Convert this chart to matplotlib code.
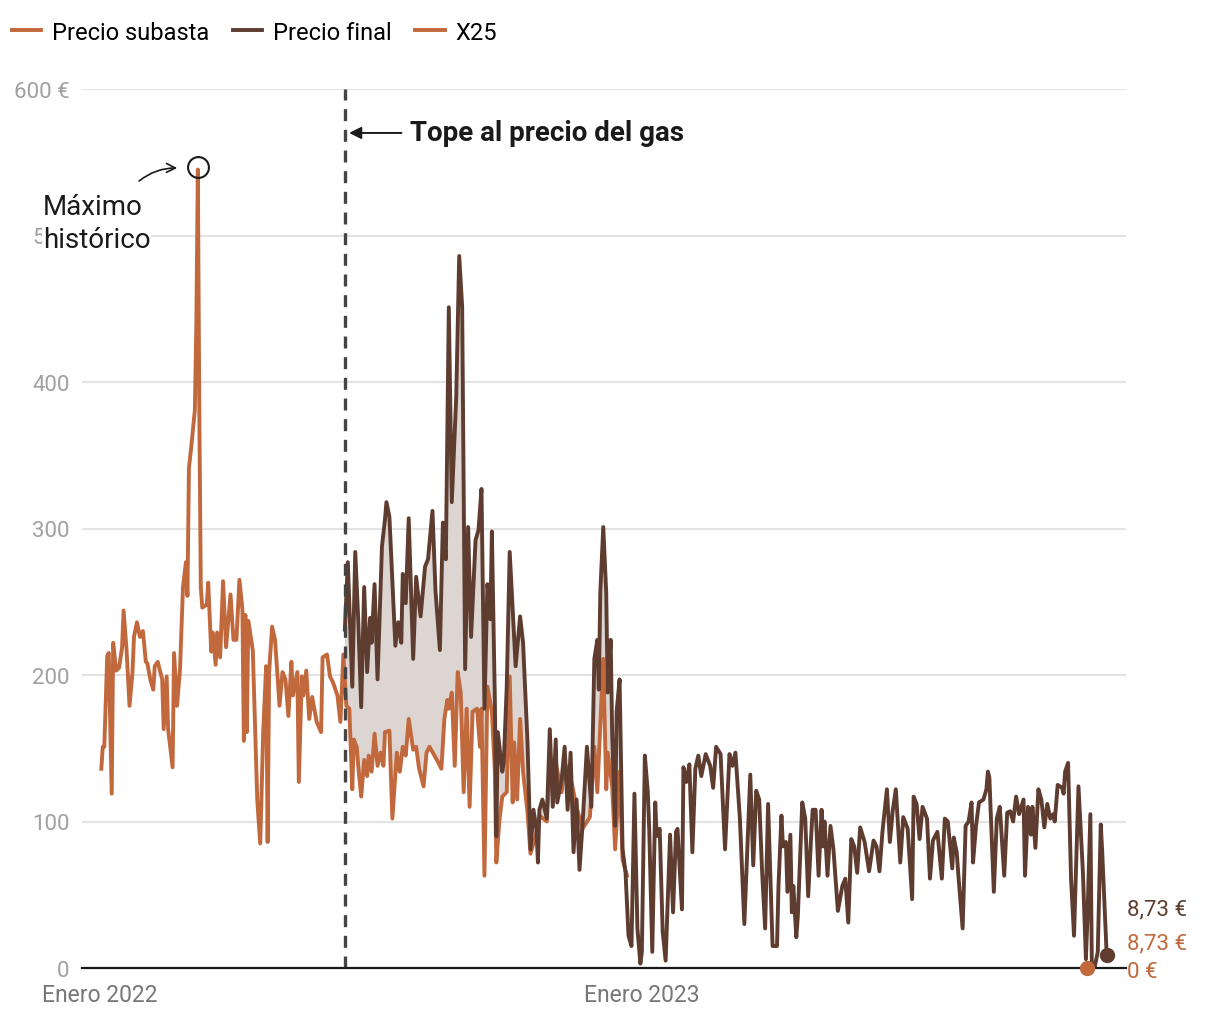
import matplotlib
matplotlib.use("Agg")
import matplotlib.pyplot as plt
import numpy as np

plt.rcParams['font.family'] = ['Roboto', 'DejaVu Sans']

# dias desde el 1 de enero de 2022
subasta_dias = [1, 2, 3, 5, 6, 8, 9, 11, 13, 15, 16, 18, 20, 22, 23, 25, 27, 29, 31, 32, 34, 36, 37, 39,
                42, 43, 45, 46, 49, 50, 52, 54, 56, 58, 59, 60, 62, 64, 65, 66, 67, 68, 69, 72, 73, 75,
                76, 78, 79, 81, 83, 85, 88, 90, 92, 94, 96, 97, 98, 99, 100, 103, 106, 108, 110, 112,
                113, 114, 116, 118, 121, 123, 125, 127, 129, 130, 133, 134, 136, 137, 139, 141, 143,
                146, 149, 150, 153, 155, 157, 160, 162, 164, 166, 168, 170, 171, 173, 174, 176, 178,
                180, 181, 183, 185, 187, 189, 191, 192, 195, 197, 200, 202, 204, 206, 208, 211, 213,
                215, 218, 220, 222, 227, 230, 232, 234, 235, 237, 239, 241, 243, 245, 247, 249, 251,
                254, 256, 257, 259, 261, 264, 266, 267, 269, 271, 274, 276, 278, 279, 281, 283, 285,
                288, 290, 294, 296, 301, 303, 307, 311, 313, 317, 321, 325, 330, 333, 335, 339, 341,
                342, 345, 347, 350, 352, 355]
subasta_vals = [136, 151, 151, 213, 215, 119, 222, 203, 205, 219, 244, 217, 179, 202, 226, 236, 226, 230,
                209, 208, 197, 190, 206, 209, 197, 163, 199, 163, 137, 215, 179, 204, 260, 277, 254,
                341, 360, 381, 440, 545, 380, 260, 246, 248, 263, 216, 229, 207, 229, 212, 264, 219,
                255, 224, 224, 265, 245, 155, 241, 161, 237, 217, 115, 85, 161, 206, 86, 202, 233, 224,
                179, 202, 197, 172, 209, 186, 202, 127, 199, 186, 203, 170, 185, 168, 161, 212, 214,
                199, 195, 186, 168, 214, 179, 177, 122, 156, 151, 138, 117, 142, 131, 145, 134, 160,
                138, 147, 138, 161, 162, 102, 147, 134, 151, 145, 170, 149, 151, 136, 124, 147, 151,
                142, 136, 170, 183, 177, 188, 138, 202, 188, 120, 177, 110, 175, 177, 151, 177, 63,
                192, 175, 134, 72, 100, 117, 120, 199, 113, 154, 115, 170, 134, 106, 78, 92, 104, 100,
                140, 140, 120, 140, 130, 110, 95, 103, 151, 120, 211, 122, 147, 124, 81, 134, 74, 63]

final_dias = [165, 167, 170, 172, 174, 176, 178, 180, 182, 183, 185, 187, 190, 192, 193, 195, 199, 201,
              203, 204, 206, 208, 211, 213, 216, 219, 221, 224, 226, 229, 231, 233, 235, 237, 240, 242,
              244, 246, 248, 250, 253, 255, 257, 259, 261, 263, 264, 266, 267, 268, 271, 272, 274, 276,
              278, 280, 283, 285, 288, 290, 292, 294, 295, 296, 298, 301, 303, 305, 307, 308, 311, 313,
              315, 317, 319, 321, 323, 325, 328, 331, 333, 335, 336, 337, 339, 341, 342, 344, 345, 347,
              348, 350, 352, 354, 356, 358, 360, 362, 364, 365, 367, 369, 370, 372, 374, 375, 377, 379,
              381, 384, 386, 388, 389, 392, 393, 395, 397, 399, 401, 403, 405, 408, 411, 413, 415, 418,
              421, 424, 426, 428, 431, 434, 436, 438, 440, 442, 444, 446, 448, 450, 453, 456, 457, 459,
              460, 462, 463, 465, 466, 467, 469, 470, 473, 475, 477, 479, 480, 482, 484, 486, 487, 488,
              490, 492, 494, 497, 500, 502, 504, 506, 508, 510, 512, 515, 518, 521, 523, 525, 527, 530,
              532, 534, 536, 539, 541, 544, 547, 548, 550, 552, 554, 557, 559, 561, 564, 567, 569, 571,
              574, 575, 577, 578, 581, 583, 585, 587, 588, 590, 592, 595, 597, 598, 599, 602, 604, 606,
              609, 611, 613, 615, 617, 619, 622, 623, 625, 627, 628, 630, 632, 634, 636, 638, 640, 642,
              643, 645, 648, 649, 650, 652, 654, 656, 659, 662, 664, 665, 667, 668, 670, 672, 674, 675,
              678]
final_vals = [231, 277, 192, 284, 238, 178, 260, 202, 239, 222, 262, 197, 288, 306, 318, 308, 220, 236,
              222, 269, 249, 307, 211, 267, 240, 274, 279, 312, 258, 217, 304, 279, 451, 318, 390, 486,
              451, 204, 301, 226, 292, 299, 327, 177, 262, 238, 298, 183, 90, 161, 134, 140, 192, 284,
              245, 206, 240, 222, 154, 81, 108, 95, 72, 108, 115, 102, 163, 110, 156, 113, 129, 151,
              108, 147, 79, 115, 67, 97, 151, 110, 211, 224, 190, 256, 301, 256, 188, 224, 160, 97,
              175, 197, 81, 65, 22, 15, 119, 27, 3, 11, 145, 120, 93, 11, 113, 90, 95, 25,
              5, 91, 38, 93, 95, 40, 137, 127, 139, 79, 136, 145, 131, 146, 138, 123, 151, 146,
              81, 146, 138, 147, 102, 30, 81, 132, 70, 121, 115, 65, 27, 112, 15, 15, 56, 104,
              83, 86, 52, 91, 38, 56, 21, 35, 113, 102, 49, 90, 108, 108, 63, 108, 83, 100,
              63, 97, 81, 39, 56, 61, 31, 88, 83, 65, 96, 86, 66, 87, 83, 66, 93, 122,
              86, 108, 122, 72, 103, 95, 47, 117, 112, 88, 110, 102, 61, 87, 93, 61, 102, 100,
              68, 89, 79, 65, 27, 97, 100, 113, 72, 97, 113, 115, 122, 134, 130, 52, 102, 110,
              63, 106, 107, 100, 117, 105, 115, 63, 110, 91, 110, 82, 122, 115, 96, 112, 102, 105,
              100, 125, 123, 119, 134, 140, 61, 22, 124, 65, 6, 33, 105, 1, 1, 11, 98, 79,
              8.73]

x25_dias = [665]
x25_vals = [0]

tope_dia = 165
max_dia = 66

naranja = '#c2683d'
marron = '#5e3d30'

inicio = np.datetime64('2022-01-01')


def fechas(dias):
    return inicio + np.array(dias).astype('timedelta64[D]')


fig = plt.figure(figsize=(12.2, 10.2), dpi=100)
ax = fig.add_axes([82 / 1220, 1 - 969 / 1020, (1126 - 82) / 1220, (969 - 90) / 1020])

fd = np.array(final_dias)
fv = np.array(final_vals, dtype=float)
sd = np.array(subasta_dias)
sv = np.array(subasta_vals, dtype=float)

# zona sombreada entre precio final y subasta mientras coinciden
fin_comun = sd.max()
mf = fd <= fin_comun
ms = sd >= tope_dia
poly_x = np.concatenate([fechas(fd[mf]), fechas(sd[ms][::-1])])
poly_y = np.concatenate([fv[mf], sv[ms][::-1]])
ax.fill(poly_x, poly_y, color='#dcd5d1', lw=0, zorder=1)

l1, = ax.plot(fechas(sd), sv, color=naranja, lw=2.8, zorder=3, solid_joinstyle='round')
l2, = ax.plot(fechas(fd), fv, color=marron, lw=2.8, zorder=4, solid_joinstyle='round')
ax.plot(fechas(x25_dias), x25_vals, 'o', color=naranja, ms=10, zorder=6, clip_on=False)
l3, = ax.plot([], [], color=naranja, lw=2.8)
ax.plot(fechas([final_dias[-1]]), [final_vals[-1]], 'o', color=marron, ms=10, zorder=6, clip_on=False)

ax.set_xlim(inicio - np.timedelta64(12, 'D'), inicio + np.timedelta64(691, 'D'))
ax.set_ylim(0, 600)

ax.set_yticks([0, 100, 200, 300, 400, 500, 600])
ax.set_yticklabels(['0', '100', '200', '300', '400', '500', '600 €'])
ax.set_xticks(fechas([0, 365]))
ax.set_xticklabels(['Enero 2022', 'Enero 2023'])
ax.tick_params(axis='y', length=0, pad=9, labelsize=16, labelcolor='#a0a0a0')
ax.tick_params(axis='x', length=0, pad=11, labelsize=16.5, labelcolor='#777777')
ax.grid(axis='y', color='#e3e3e3', lw=1.5)
ax.set_axisbelow(True)
for s in ['top', 'right', 'left']:
    ax.spines[s].set_visible(False)
ax.spines['bottom'].set_color('#1a1a1a')
ax.spines['bottom'].set_linewidth(1.6)
ax.spines['bottom'].set_zorder(5)

# tope al precio del gas
ax.axvline(fechas([tope_dia])[0], color='#444444', lw=2.4, ls=(0, (3.6, 2.6)), zorder=5)
ax.annotate('', xy=(fechas([tope_dia + 1])[0], 570), xytext=(fechas([tope_dia + 40])[0], 570),
            arrowprops=dict(arrowstyle='-|>', color='#1a1a1a', lw=1.4, mutation_scale=18))
ax.text(fechas([tope_dia + 44])[0], 570, 'Tope al precio del gas', fontsize=20, fontweight='bold',
        color='#1a1a1a', va='center', ha='left')

# maximo historico
ax.plot(fechas([max_dia]), [547], 'o', ms=15, mfc='none', mec='#1a1a1a', mew=1.5, zorder=6)
ax.annotate('', xy=(fechas([max_dia - 12])[0], 546), xytext=(fechas([max_dia - 41])[0], 536),
            arrowprops=dict(arrowstyle='->', color='#1a1a1a', lw=1.2, mutation_scale=16,
                            connectionstyle='arc3,rad=-0.2'))
fig.text(43 / 1220, 1 - 224 / 1020, 'Máximo\nhistórico', fontsize=20, color='#1a1a1a',
         va='center', ha='left', linespacing=1.25,
         bbox=dict(facecolor='white', edgecolor='none', pad=0.5))

# etiquetas finales
fig.text(1127 / 1220, 1 - 910 / 1020, '8,73 €', fontsize=16, color=marron, va='center', ha='left')
fig.text(1127 / 1220, 1 - 944 / 1020, '8,73 €', fontsize=16, color=naranja, va='center', ha='left')
fig.text(1127 / 1220, 1 - 973 / 1020, '0 €', fontsize=16, color=naranja, va='center', ha='left')

fig.legend([l1, l2, l3], ['Precio subasta', 'Precio final', 'X25'], loc='upper left',
           bbox_to_anchor=(-0.004, 0.995), ncol=3, frameon=False, fontsize=17,
           handlelength=1.25, handletextpad=0.45, columnspacing=1.0, borderaxespad=0.3)

fig.savefig('out.png', dpi=100)
